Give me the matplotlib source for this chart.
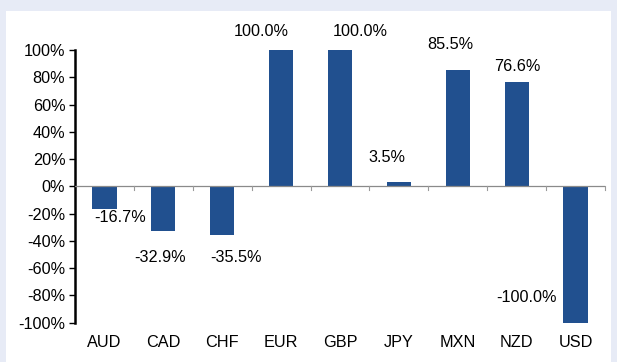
import matplotlib.pyplot as plt
from matplotlib.patches import Rectangle
from matplotlib.ticker import FuncFormatter, FixedLocator
import numpy as np

plt.rcParams['font.family'] = ['Liberation Sans', 'DejaVu Sans']

# data
currencies = ['AUD', 'CAD', 'CHF', 'EUR', 'GBP', 'JPY', 'MXN', 'NZD', 'USD']
values = [-16.7, -32.9, -35.5, 100.0, 100.0, 3.5, 85.5, 76.6, -100.0]
# label offsets in pixels (dx, dy) from bar end
label_dx = [16, -3, 14, -20, 20, -12, -7, 1, -49]
label_dy = [-8, -26, -23, 18, 18, 24, 25, 15, 25]

bar_color = '#21508f'
frame_color = '#e7ebf6'
fs = 11.7

fig = plt.figure(figsize=(6.17, 3.62), dpi=100)
fig.patch.set_facecolor(frame_color)
fig.patches.append(Rectangle((6 / 617, 0), (611 - 6) / 617, (362 - 11) / 362,
                             transform=fig.transFigure, facecolor='white',
                             edgecolor='none', zorder=-10))

ax = fig.add_axes([75 / 617, (362 - 322.7) / 362, (605 - 75) / 617, (322.7 - 50) / 362])
x = np.arange(len(currencies))
ax.bar(x, values, width=0.41, color=bar_color, zorder=2)
ax.set_xlim(-0.5, len(currencies) - 0.5)
ax.set_ylim(-100, 100)
ax.set_facecolor('none')

ax.yaxis.set_major_locator(FixedLocator(np.arange(-100, 101, 20)))
ax.yaxis.set_major_formatter(FuncFormatter(lambda v, p: f'{v:.0f}%'))
ax.tick_params(axis='y', length=4, width=1, labelsize=fs, pad=3, colors='black')

for s in ['top', 'right', 'bottom']:
    ax.spines[s].set_visible(False)
ax.spines['left'].set_linewidth(1.8)
ax.axhline(0, color='#8a8a8a', linewidth=0.9, zorder=3)

# category boundary ticks on the zero line
ax.set_xticks([])
for b in np.arange(0.5, len(currencies) - 0.5, 1.0):
    ax.plot([b, b], [0, -2.5], color='#9a9a9a', linewidth=0.8, zorder=3, clip_on=False)
ax.plot([len(currencies) - 0.5] * 2, [0, -2.5], color='#9a9a9a', linewidth=0.8, zorder=3, clip_on=False)

for i, c in enumerate(currencies):
    ax.annotate(c, (i, 0), xycoords=('data', 'axes fraction'), xytext=(0, -20),
                textcoords='offset pixels', ha='center', va='center', fontsize=fs)

for i, v in enumerate(values):
    ax.annotate(f'{v:.1f}%', (i, v), xytext=(label_dx[i], label_dy[i]),
                textcoords='offset pixels', ha='center', va='center', fontsize=fs,
                zorder=4, annotation_clip=False)

fig.savefig('out.png', dpi=100, facecolor=fig.get_facecolor())
